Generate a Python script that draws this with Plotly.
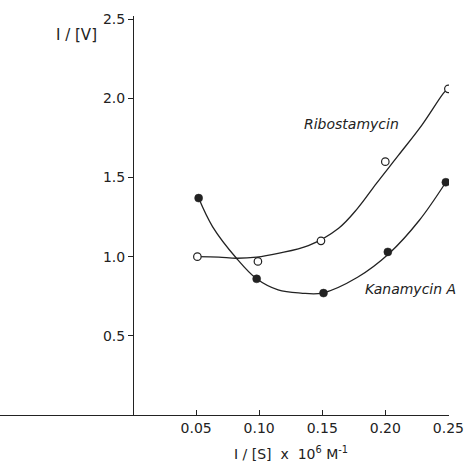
import plotly.graph_objects as go

# Measured points
kan_x = [0.052, 0.098, 0.151, 0.202, 0.248]
kan_y = [1.37, 0.86, 0.77, 1.03, 1.47]
ribo_x = [0.051, 0.099, 0.149, 0.200, 0.250]
ribo_y = [1.00, 0.97, 1.10, 1.60, 2.06]

# Fitted curves as drawn in the figure
kan_curve_x = [0.052, 0.063, 0.082, 0.098, 0.115, 0.133, 0.150, 0.178, 0.203, 0.227, 0.248]
kan_curve_y = [1.37, 1.19, 0.99, 0.86, 0.79, 0.77, 0.77, 0.87, 1.02, 1.23, 1.47]
ribo_curve_x = [0.051, 0.068, 0.082, 0.098, 0.115, 0.139, 0.163, 0.178, 0.193, 0.2105, 0.229, 0.246, 0.250]
ribo_curve_y = [1.00, 0.997, 0.99, 0.997, 1.021, 1.07, 1.18, 1.305, 1.463, 1.641, 1.831, 2.031, 2.066]

x_ticks = [0.05, 0.10, 0.15, 0.20, 0.25]
x_tick_labels = ["0.05", "0.10", "0.15", "0.20", "0.25"]
y_ticks = [0.5, 1.0, 1.5, 2.0, 2.5]
y_tick_labels = ["0.5", "1.0", "1.5", "2.0", "2.5"]

FONT = "DejaVu Sans"
INK = "#222222"

fig = go.Figure()
fig.add_trace(go.Scatter(x=ribo_curve_x, y=ribo_curve_y, mode="lines",
                         line=dict(color=INK, width=1.3, shape="spline", smoothing=1.0),
                         showlegend=False, hoverinfo="skip"))
fig.add_trace(go.Scatter(x=kan_curve_x, y=kan_curve_y, mode="lines",
                         line=dict(color=INK, width=1.3, shape="spline", smoothing=1.0),
                         showlegend=False, hoverinfo="skip"))
fig.add_trace(go.Scatter(x=ribo_x, y=ribo_y, mode="markers", name="Ribostamycin",
                         marker=dict(symbol="circle", size=7.5, color="white",
                                     line=dict(color=INK, width=1.2)),
                         showlegend=False))
fig.add_trace(go.Scatter(x=kan_x, y=kan_y, mode="markers", name="Kanamycin A",
                         marker=dict(symbol="circle", size=8, color=INK,
                                     line=dict(color=INK, width=0.5)),
                         showlegend=False))

xmin, xmax = -0.1055, 0.2505
L, R, T, B = 0, 16, 16, 46
PW, PH = 465 - L - R, 461 - T - B
fig.update_layout(
    width=465, height=461,
    margin=dict(l=L, r=R, t=T, b=B, autoexpand=False),
    paper_bgcolor="white", plot_bgcolor="white",
    font=dict(family=FONT, size=14, color=INK),
    xaxis=dict(range=[xmin, xmax], tickvals=x_ticks, ticktext=x_tick_labels,
               showline=True, linecolor=INK, linewidth=1.2, ticks="inside",
               ticklen=5, tickcolor=INK, showgrid=False, zeroline=False,
               tickfont=dict(size=14)),
    yaxis=dict(range=[0, 2.52], tickvals=y_ticks, ticktext=y_tick_labels,
               anchor="free", position=(0 - xmin) / (xmax - xmin),
               showline=True, linecolor=INK, linewidth=1.2, ticks="outside",
               ticklen=5, tickcolor=INK, showgrid=False, zeroline=False,
               tickfont=dict(size=14)),
    annotations=[
        dict(text="Ribostamycin", x=0.1735, y=1.837, xref="x", yref="y",
             xanchor="center", yanchor="middle",
             showarrow=False, font=dict(size=14, family=FONT, style="italic")),
        dict(text="Kanamycin A", x=0.220, y=0.795, xref="x", yref="y",
             xanchor="center", yanchor="middle",
             showarrow=False, font=dict(size=14, family=FONT, style="italic")),
        dict(text="I / [V]", x=76 / PW, y=(461 - B - 35) / PH, xref="paper", yref="paper",
             xanchor="center", yanchor="middle",
             showarrow=False, font=dict(size=15, family=FONT)),
        dict(text="I / [S]  x  10<sup>6</sup> M<sup>-1</sup>", x=291 / PW, y=(461 - B - 453) / PH,
             xref="paper", yref="paper", xanchor="center", yanchor="middle",
             showarrow=False, font=dict(size=14, family=FONT)),
    ],
)

fig.write_html("out.html", config={"displayModeBar": False},
               post_script="document.body.style.margin='0';")
